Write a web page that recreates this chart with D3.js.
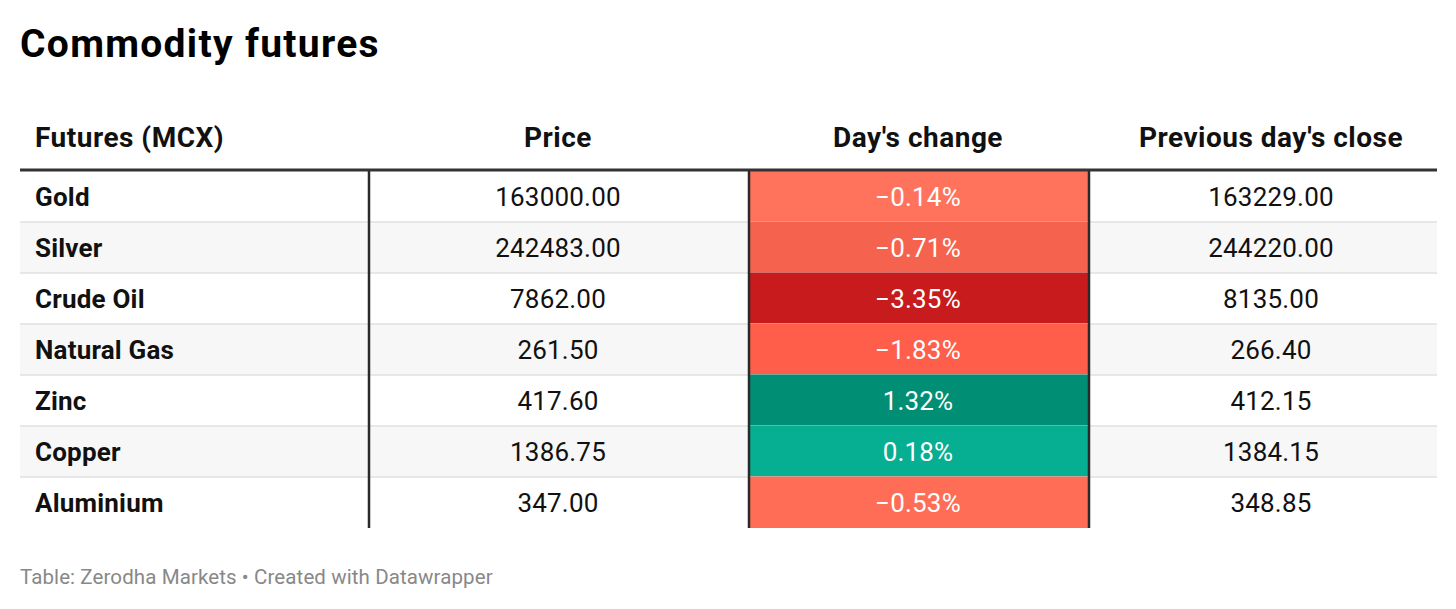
<!DOCTYPE html>
<html>
<head>
<meta charset="utf-8">
<script src="https://cdn.jsdelivr.net/npm/d3@7"></script>
<style>
  html, body { margin: 0; padding: 0; background: #fff; }
  svg text { font-family: Roboto, "Noto Sans", sans-serif; }
</style>
</head>
<body>
<div id="table"></div>
<script>
// data
const columns = ["Futures (MCX)", "Price", "Day's change", "Previous day's close"];
const commodities = ["Gold", "Silver", "Crude Oil", "Natural Gas", "Zinc", "Copper", "Aluminium"];
const prices = [163000.00, 242483.00, 7862.00, 261.50, 417.60, 1386.75, 347.00];
const changes = [-0.14, -0.71, -3.35, -1.83, 1.32, 0.18, -0.53];
const prevClose = [163229.00, 244220.00, 8135.00, 266.40, 412.15, 1384.15, 348.85];
const changeThresholds = [-2, -1, -0.6, -0.3, 0, 1];
const changeColors = ["#c71b1d", "#ff5e4a", "#f5634e", "#ff6d57", "#ff735d", "#06ae92", "#008f74"];

const width = 1456, height = 609;
const margin = { left: 20, right: 19 };
const headerBottom = 170;
const tableBottom = 528;

const svg = d3.select('#table')
    .append('svg')
    .attr('width', width)
    .attr('height', height);

// title
svg.append('text')
    .attr('x', 20).attr('y', 57)
    .style('font-size', '39px')
    .style('font-weight', 700)
    .style('letter-spacing', '1.3px')
    .attr('fill', '#000')
    .text('Commodity futures');

// column edges, text centre nudges
const colEdges = [margin.left, 369, 749, 1089, width - margin.right];
const colNudge = [0, -1, -1, 8];
const colMid = i => (colEdges[i] + colEdges[i + 1]) / 2 + colNudge[i];

const y = d3.scaleBand()
    .domain(commodities)
    .range([headerBottom + 1, tableBottom]);

const colorScale = d3.scaleThreshold()
    .domain(changeThresholds)
    .range(changeColors);

const fmt2 = d3.format('.2f');
const fmtPct = d => (d < 0 ? '\u2212' + fmt2(-d) : fmt2(d)) + '%';

// header
svg.selectAll('text.head')
    .data(columns)
    .join('text')
    .attr('class', 'head')
    .attr('x', (d, i) => i === 0 ? 35 : colMid(i))
    .attr('y', 147)
    .attr('text-anchor', (d, i) => i === 0 ? 'start' : 'middle')
    .style('font-size', '28px')
    .style('font-weight', 700)
    .style('letter-spacing', '0.5px')
    .attr('fill', '#111')
    .text(d => d);

const rows = svg.append('g')
    .selectAll('g')
    .data(commodities)
    .join('g')
    .attr('transform', d => `translate(0,${y(d)})`);

// striped rows
rows.append('rect')
    .attr('x', margin.left)
    .attr('width', width - margin.left - margin.right)
    .attr('height', y.bandwidth())
    .attr('fill', (d, i) => i % 2 === 1 ? '#f7f7f7' : '#fff');

// row separators
rows.filter((d, i) => i > 0)
    .append('line')
    .attr('x1', margin.left).attr('x2', width - margin.right)
    .attr('y1', 0).attr('y2', 0)
    .attr('stroke', '#e0e0e0')
    .attr('stroke-width', 1.5);

// change cells
rows.append('rect')
    .attr('x', colEdges[2])
    .attr('y', -0.5)
    .attr('width', colEdges[3] - colEdges[2])
    .attr('height', y.bandwidth() + 0.5)
    .attr('fill', (d, i) => colorScale(changes[i]));

const textY = y.bandwidth() / 2 + 9.5;

rows.append('text')
    .attr('x', 35).attr('y', textY)
    .style('font-size', '26px')
    .style('font-weight', 700)
    .style('letter-spacing', '0.2px')
    .attr('fill', '#111')
    .text(d => d);

rows.append('text')
    .attr('x', colMid(1)).attr('y', textY)
    .attr('text-anchor', 'middle')
    .style('font-size', '26px')
    .style('letter-spacing', '0.2px')
    .attr('fill', '#111')
    .text((d, i) => fmt2(prices[i]));

rows.append('text')
    .attr('x', colMid(2)).attr('y', textY)
    .attr('text-anchor', 'middle')
    .style('font-size', '26px')
    .style('letter-spacing', '0.2px')
    .attr('fill', '#fff')
    .text((d, i) => fmtPct(changes[i]));

rows.append('text')
    .attr('x', colMid(3)).attr('y', textY)
    .attr('text-anchor', 'middle')
    .style('font-size', '26px')
    .style('letter-spacing', '0.2px')
    .attr('fill', '#111')
    .text((d, i) => fmt2(prevClose[i]));

// vertical column borders
[colEdges[1], colEdges[2], colEdges[3]].forEach(x => {
    svg.append('line')
        .attr('x1', x).attr('x2', x)
        .attr('y1', headerBottom).attr('y2', tableBottom)
        .attr('stroke', '#2a2a2a')
        .attr('stroke-width', 2.5);
});

// header rule
svg.append('line')
    .attr('x1', margin.left).attr('x2', width - margin.right)
    .attr('y1', headerBottom).attr('y2', headerBottom)
    .attr('stroke', '#333')
    .attr('stroke-width', 3);

// footer
svg.append('text')
    .attr('x', 20).attr('y', 584)
    .style('font-size', '20.5px')
    .style('letter-spacing', '0.1px')
    .attr('fill', '#888')
    .text('Table: Zerodha Markets \u2022 Created with Datawrapper');
</script>
</body>
</html>
